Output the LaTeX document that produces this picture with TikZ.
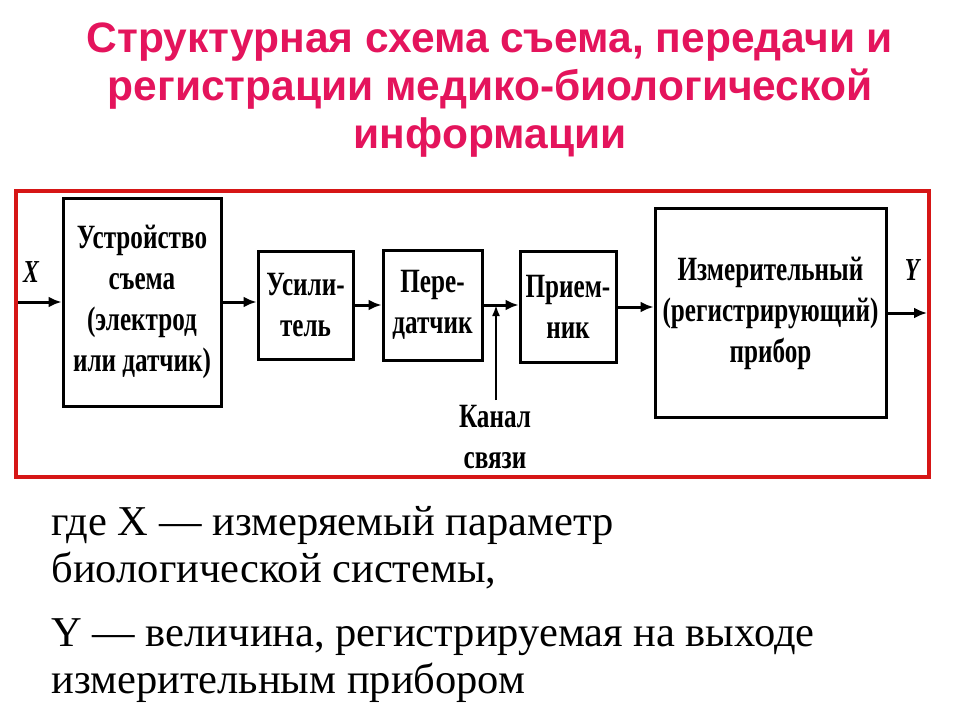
\documentclass[tikz,border=0pt]{standalone}
\usepackage{fontspec}
\setmainfont{Liberation Serif}
\newfontfamily\titlefont{Liberation Sans}
\newfontfamily\blockfont{Liberation Serif}[FakeStretch=0.74]
\usetikzlibrary{arrows.meta}

\definecolor{titlepink}{RGB}{228,20,92}
\definecolor{framered}{RGB}{214,22,22}

\begin{document}
\begin{tikzpicture}[x=1pt,y=-1pt,
    blok/.style={draw=black, line width=3pt, inner sep=0pt, align=center,
        font=\blockfont\bfseries\fontsize{34}{41}\selectfont},
    strelka/.style={line width=3pt, -{Latex[length=13pt,width=11pt]}},
    metka/.style={font=\blockfont\bfseries\itshape\fontsize{32}{36}\selectfont}]
    \useasboundingbox (0,0) rectangle (960,720);

    % Заголовок
    \node[titlepink, anchor=base, align=center, font=\titlefont\bfseries\fontsize{42.5}{48}\selectfont]
        (zagolovok) at (490,148)
        {Структурная схема съема, передачи и\\регистрации медико-биологической\\информации};

    % Рамка
    \draw[framered, line width=3.5pt] (16,191) rectangle (929,477);

    % Блоки
    \node[blok, minimum width=158, minimum height=208] (ustr) at (142,302)
        {Устройство\\съема\\(электрод\\или датчик)};
    \node[blok, minimum width=95, minimum height=108] (usil) at (305.5,305)
        {Усили-\\тель};
    \node[blok, minimum width=99, minimum height=110] (peredatchik) at (432.5,305)
        {Пере-\\датчик};
    \node[blok, minimum width=96, minimum height=111] (priemnik) at (568,307)
        {Прием-\\ник};
    \node[blok, minimum width=231, minimum height=209] (pribor) at (770.5,313)
        {Измерительный\\(регистрирующий)\\прибор};

    % Вход и выход
    \coordinate (vhod) at (18,302);
    \coordinate (vyhod) at (927,313);
    \node[metka] (xlabel) at (31,272) {X};
    \node[metka] (ylabel) at (912,270) {Y};

    \draw[strelka] (vhod) -- (ustr.west);
    \draw[strelka] (ustr.east) -- (ustr.east -| usil.west);
    \draw[strelka] (usil.east) -- (usil.east -| peredatchik.west);
    \draw[strelka] (peredatchik.east) -- (peredatchik.east -| priemnik.west);
    \draw[strelka] (priemnik.east) -- (priemnik.east -| pribor.west);
    \draw[strelka] (pribor.east) -- (vyhod);

    % Канал связи
    \node[anchor=base, align=center, font=\blockfont\bfseries\fontsize{34}{41}\selectfont]
        (kanaltxt) at (495,468) {Канал\\связи};
    \coordinate (kanal) at (496,400);
    \draw[line width=2pt, -{Latex[length=11pt,width=8pt]}] (kanal) -- (kanal |- peredatchik.east);

    % Пояснения
    \node[anchor=base west, align=left, font=\fontsize{42.5}{47}\selectfont]
        (poyasnX) at (48,582) {где X — измеряемый параметр\\биологической системы,};
    \node[anchor=base west, align=left, font=\fontsize{42.5}{47}\selectfont]
        (poyasnY) at (48,693) {Y — величина, регистрируемая на выходе\\измерительным прибором};

\end{tikzpicture}
\end{document}
